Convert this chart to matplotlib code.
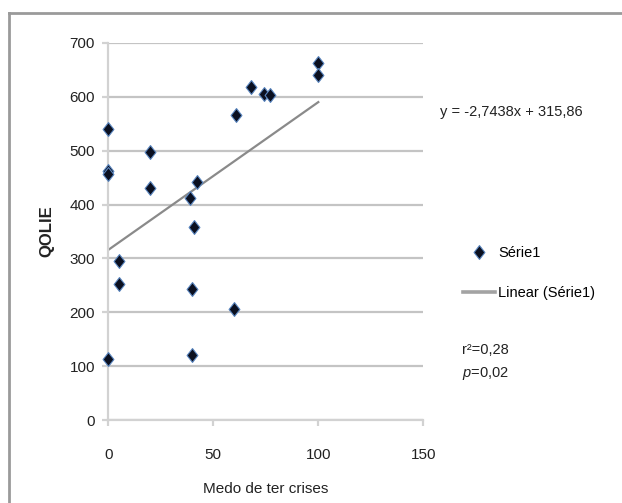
import matplotlib
matplotlib.use("Agg")
import matplotlib.pyplot as plt
from matplotlib.lines import Line2D
from matplotlib.path import Path

plt.rcParams["font.family"] = ["Liberation Sans", "DejaVu Sans"]
plt.rcParams["mathtext.fontset"] = "custom"
plt.rcParams["mathtext.rm"] = "Liberation Sans"
plt.rcParams["mathtext.it"] = "Liberation Sans:italic"

# ── Dados ─────────────────────────────────────────────────────────────
medo = [0, 0, 0, 0, 5, 5, 20, 20, 42, 39, 41, 40, 40, 61, 60, 68, 74, 77, 100, 100]
qolie = [541, 463, 457, 113, 295, 252, 498, 430, 442, 412, 358, 244, 121,
         566, 206, 619, 606, 604, 663, 640]
tendencia_a = 2.7438
tendencia_b = 315.86
tendencia_x = [0, 100]
x_ticks = [0, 50, 100, 150]
y_ticks = [0, 100, 200, 300, 400, 500, 600, 700]

W, H = 622, 503


def fx(px):
    return px / W


def fy(py):
    return 1 - py / H


fig = plt.figure(figsize=(W / 100, H / 100), dpi=100)
ax = fig.add_axes([fx(108.3), fy(420), fx(423.3) - fx(108.3), fy(43) - fy(420)])

# moldura cinzenta (esquerda e topo)
fig.add_artist(Line2D([fx(9), fx(9)], [0, fy(13)], color="#9a9a9a", lw=2))
fig.add_artist(Line2D([fx(9), 1], [fy(13), fy(13)], color="#9a9a9a", lw=2))

diamante = Path([(0, 1), (0.78, 0), (0, -1), (-0.78, 0), (0, 1)],
                [Path.MOVETO, Path.LINETO, Path.LINETO, Path.LINETO, Path.CLOSEPOLY])

ax.set_xlim(0, 150)
ax.set_ylim(0, 700)
ax.set_xticks(x_ticks)
ax.set_yticks(y_ticks)
ax.grid(axis="y", color="#c4c4c4", lw=1.6)
ax.set_axisbelow(True)
for s in ["top", "right"]:
    ax.spines[s].set_visible(False)
for s in ["left", "bottom"]:
    ax.spines[s].set_color("#d2d2d2")
    ax.spines[s].set_linewidth(1.6)
ax.tick_params(axis="x", direction="out", length=4.5, width=1.6, color="#d2d2d2",
               pad=16, labelsize=11, labelcolor="#222222")
ax.tick_params(axis="y", direction="out", length=4.5, width=1.6, color="#d2d2d2",
               pad=5, labelsize=11, labelcolor="#222222")

ax.plot(tendencia_x, [tendencia_a * v + tendencia_b for v in tendencia_x],
        color="#8a8a8a", lw=1.6, zorder=2)
pontos, = ax.plot(medo, qolie, ls="none", marker=diamante, markersize=10,
                  markerfacecolor="#0b1020", markeredgecolor="#5a86c0",
                  markeredgewidth=0.8, label="Série1", zorder=3, clip_on=False)
linha_leg = Line2D([], [], color="#a3a3a3", lw=2.6, label="Linear (Série1)")

ax.set_xlabel("Medo de ter crises", fontsize=11, color="#222222")
ax.xaxis.set_label_coords(0.5, -(489 - 420) / (420 - 43), transform=ax.transAxes)
ax.xaxis.label.set_va("center")
ax.set_ylabel("QOLIE", fontsize=12, fontweight="bold", color="#222222")
ax.yaxis.set_label_coords(-(108.3 - 47) / (423.3 - 108.3), 0.5)
ax.yaxis.label.set_va("center")

fig.legend(handles=[pontos, linha_leg], loc="center left",
           bbox_to_anchor=(fx(463), fy(273)), frameon=False, fontsize=10.5,
           handlelength=2.2, handletextpad=0.2, labelspacing=1.75,
           borderpad=0, borderaxespad=0)

fig.text(fx(440.5), fy(112), "y = -2,7438x + 315,86", fontsize=10.5,
         va="center", ha="left", color="#222222")
fig.text(fx(462), fy(350), "r²=0,28", fontsize=10.5, va="center", ha="left",
         color="#222222")
fig.text(fx(462), fy(373), "$p$=0,02", fontsize=10.5, va="center", ha="left",
         color="#222222")

fig.savefig("out.png", dpi=100)
